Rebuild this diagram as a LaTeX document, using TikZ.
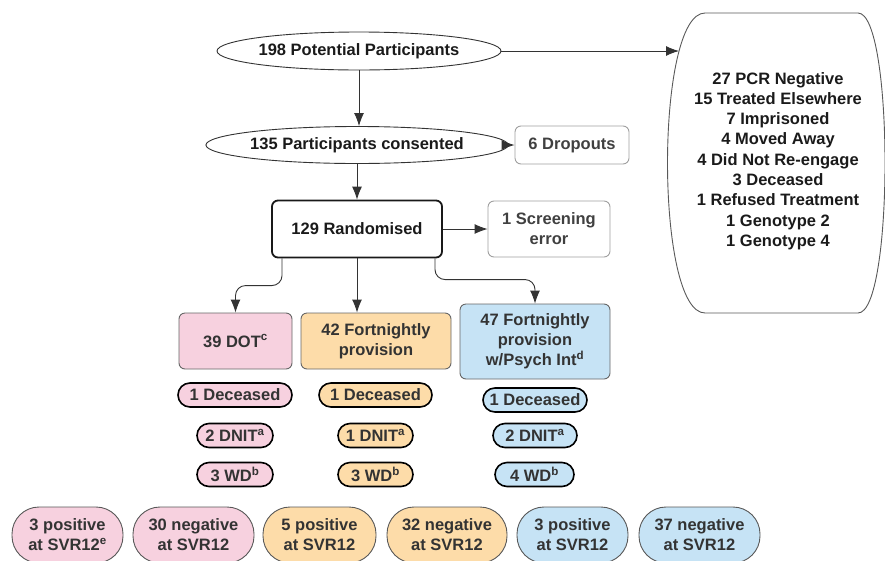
\documentclass[tikz,border=0pt]{standalone}
\usepackage{fontspec}
\setmainfont{Liberation Sans}
\usetikzlibrary{shapes.geometric,arrows.meta,calc}
\definecolor{pinkf}{HTML}{F7D1DF}
\definecolor{orangef}{HTML}{FDDCA9}
\definecolor{bluef}{HTML}{C6E3F5}
\definecolor{linec}{HTML}{333333}
\definecolor{txt}{HTML}{1A1A1A}
\tikzset{
  every node/.style={font=\fontsize{16.5}{20}\selectfont\bfseries, text=txt, align=center, inner sep=0pt},
  arr/.style={draw=linec, line width=0.9pt, -{Latex[length=13pt,width=10pt]}},
  ell/.style={ellipse, draw=linec, line width=0.9pt},
  graybox/.style={rectangle, draw=gray!75, line width=0.9pt, rounded corners=6pt, text=black!75},
  mainbox/.style={rectangle, draw=black!90, line width=1.8pt, rounded corners=6pt},
  armbox/.style={rectangle, draw=gray!80!black, line width=0.9pt, rounded corners=6pt, text=black!80},
  pill/.style={rectangle, draw=black, line width=1.6pt, rounded corners=12pt, minimum height=24pt, text=black!80},
  botpill/.style={rectangle, draw=gray!70!black, line width=0.9pt, rounded corners=27pt, minimum height=56pt, text=black!80},
}
\begin{document}
\begin{tikzpicture}[x=1pt,y=-1pt]
\useasboundingbox (0,0) rectangle (885,560);
% top flow
\node[ell, minimum width=272pt, minimum height=38pt] (pot) at (359,51) {198 Potential Participants};
\node[ell, minimum width=245pt, minimum height=37pt] (cons) at (357,145) {135 Participants consented};
\node[graybox, minimum width=114pt, minimum height=38pt] (drop) at (572,145) {6 Dropouts};
\node[mainbox, minimum width=170pt, minimum height=57pt] (rand) at (357,229) {129 Randomised};
\node[graybox, minimum width=122pt, minimum height=56pt] (scr) at (549,229) {1 Screening\\error};
% exclusion node
\draw[draw=gray!70!black, line width=0.9pt]
  (705,13) -- (858,13) .. controls (894,13) and (894,313) .. (858,313)
  -- (705,313) .. controls (655,313) and (655,13) .. (705,13);
\node[font=\fontsize{16.5}{20.3}\selectfont\bfseries] (excl) at (778,161) {27 PCR Negative\\15 Treated Elsewhere\\7 Imprisoned\\4 Moved Away\\4 Did Not Re-engage\\3 Deceased\\1 Refused Treatment\\1 Genotype 2\\1 Genotype 4};
\coordinate (exclL) at (679,51);
% arms
\node[armbox, fill=pinkf, minimum width=113pt, minimum height=56pt] (dot) at (235.5,341) {39 DOT\textsuperscript{c}};
\node[armbox, fill=orangef, minimum width=150pt, minimum height=56pt] (fort) at (376,341) {42 Fortnightly\\provision};
\node[armbox, fill=bluef, minimum width=150pt, minimum height=75pt] (psy) at (535,341.5) {47 Fortnightly\\provision\\w/Psych Int\textsuperscript{d}};
% pills
\node[pill, fill=pinkf, minimum width=114pt] (pdec) at (235,395) {1 Deceased};
\node[pill, fill=pinkf, minimum width=76pt] (pdnit) at (235,435.5) {2 DNIT\textsuperscript{a}};
\node[pill, fill=pinkf, minimum width=76pt] (pwd) at (235,474.5) {3 WD\textsuperscript{b}};
\node[pill, fill=orangef, minimum width=113pt] (odec) at (375.5,395) {1 Deceased};
\node[pill, fill=orangef, minimum width=75pt] (odnit) at (375.5,435.5) {1 DNIT\textsuperscript{a}};
\node[pill, fill=orangef, minimum width=75pt] (owd) at (375.5,474.5) {3 WD\textsuperscript{b}};
\node[pill, fill=bluef, minimum width=104pt] (bdec) at (535,400) {1 Deceased};
\node[pill, fill=bluef, minimum width=84pt] (bdnit) at (535,435.5) {2 DNIT\textsuperscript{a}};
\node[pill, fill=bluef, minimum width=79pt] (bwd) at (534.5,474.5) {4 WD\textsuperscript{b}};
% bottom pills
\node[botpill, fill=pinkf, minimum width=111pt] (ppos) at (67.5,535) {3 positive\\at SVR12\textsuperscript{e}};
\node[botpill, fill=pinkf, minimum width=121pt] (pneg) at (193.5,535) {30 negative\\at SVR12};
\node[botpill, fill=orangef, minimum width=113pt] (opos) at (319.5,535) {5 positive\\at SVR12};
\node[botpill, fill=orangef, minimum width=120pt] (oneg) at (447,535) {32 negative\\at SVR12};
\node[botpill, fill=bluef, minimum width=111pt] (bpos) at (572.5,535) {3 positive\\at SVR12};
\node[botpill, fill=bluef, minimum width=121pt] (bneg) at (699.5,535) {37 negative\\at SVR12};
% connectors
\draw[arr] (pot.east) -- (exclL);
\draw[arr] (pot.south) -- (pot.south |- cons.north);
\draw[arr] (cons.east) -- (cons.east -| drop.west);
\draw[arr] (cons.south) -- (cons.south |- rand.north);
\draw[arr] (rand.east) -- (scr.west);
\draw[arr, rounded corners=10pt] ([xshift=-75pt]rand.south) |- ($(dot.north)+(0,-27)$) -- (dot.north);
\draw[arr] (rand.south) -- (rand.south |- fort.north);
\draw[arr, rounded corners=10pt] ([xshift=78pt]rand.south) |- ($(psy.north)+(0,-24)$) -- (psy.north);
\end{tikzpicture}
\end{document}
